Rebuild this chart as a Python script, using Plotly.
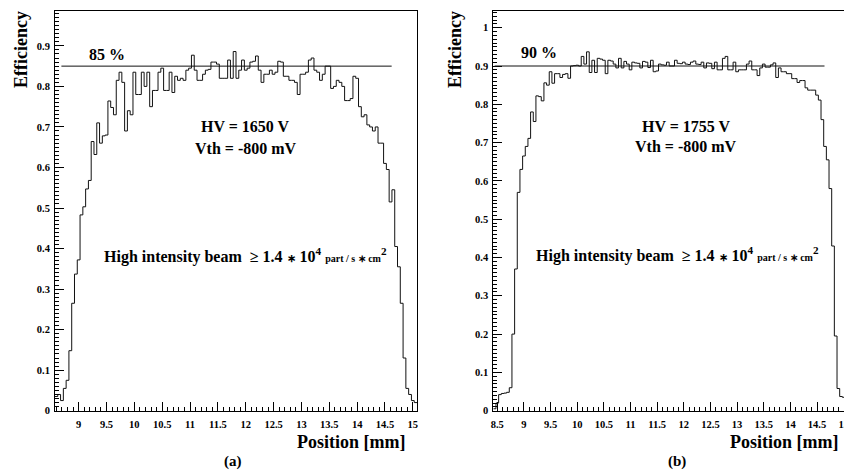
import numpy as np
import plotly.graph_objects as go

# ---------------- data ----------------
BIN_WIDTH = 0.05
A_FIRST_EDGE = 8.575   # panel (a) histogram low edge [mm]
B_FIRST_EDGE = 8.425   # panel (b) histogram low edge [mm]

eff_a = [0.035, 0.04, 0.025, 0.055, 0.075, 0.148, 0.265, 0.337, 0.372, 0.483,
         0.503, 0.547, 0.568, 0.664, 0.632, 0.71, 0.66, 0.678, 0.68, 0.764,
         0.748, 0.73, 0.815, 0.835, 0.81, 0.69, 0.74, 0.73, 0.835, 0.78,
         0.78, 0.835, 0.80, 0.835, 0.75, 0.79, 0.79, 0.835, 0.845, 0.79,
         0.79, 0.835, 0.785, 0.825, 0.815, 0.82, 0.815, 0.84, 0.845, 0.877,
         0.84, 0.815, 0.815, 0.83, 0.84, 0.842, 0.86, 0.86, 0.855, 0.82,
         0.82, 0.82, 0.865, 0.82, 0.886, 0.82, 0.84, 0.865, 0.84, 0.845,
         0.86, 0.862, 0.875, 0.84, 0.81, 0.83, 0.83, 0.84, 0.83, 0.835,
         0.862, 0.86, 0.825, 0.825, 0.815, 0.815, 0.81, 0.78, 0.83, 0.83,
         0.835, 0.865, 0.87, 0.84, 0.835, 0.815, 0.83, 0.85, 0.85, 0.795,
         0.80, 0.815, 0.81, 0.80, 0.765, 0.765, 0.77, 0.825, 0.82, 0.75,
         0.725, 0.73, 0.705, 0.70, 0.69, 0.70, 0.66, 0.66, 0.61, 0.595,
         0.515, 0.545, 0.405, 0.355, 0.265, 0.13, 0.055, 0.04, 0.025, 0.02]

eff_b = [0.005, 0.02, 0.042, 0.045, 0.046, 0.048, 0.06, 0.2, 0.37, 0.57,
         0.63, 0.665, 0.69, 0.711, 0.78, 0.755, 0.822, 0.82, 0.809, 0.856,
         0.85, 0.885, 0.855, 0.88, 0.88, 0.87, 0.878, 0.88, 0.868, 0.90,
         0.901, 0.902, 0.90, 0.925, 0.905, 0.937, 0.883, 0.915, 0.883, 0.92,
         0.918, 0.915, 0.88, 0.915, 0.913, 0.905, 0.895, 0.92, 0.895, 0.912,
         0.905, 0.89, 0.91, 0.908, 0.907, 0.895, 0.912, 0.91, 0.896, 0.915,
         0.885, 0.887, 0.905, 0.903, 0.902, 0.91, 0.90, 0.90, 0.915, 0.907,
         0.906, 0.91, 0.905, 0.904, 0.91, 0.913, 0.905, 0.904, 0.91, 0.895,
         0.908, 0.907, 0.893, 0.91, 0.89, 0.89, 0.92, 0.925, 0.89, 0.89,
         0.91, 0.885, 0.89, 0.89, 0.89, 0.905, 0.913, 0.89, 0.89, 0.875,
         0.895, 0.905, 0.897, 0.897, 0.903, 0.908, 0.87, 0.895, 0.885, 0.885,
         0.88, 0.88, 0.867, 0.867, 0.857, 0.862, 0.862, 0.843, 0.837, 0.837,
         0.837, 0.824, 0.811, 0.76, 0.69, 0.655, 0.58, 0.43, 0.195, 0.058,
         0.037, 0.035, 0.03]

# reference lines: (x start, x end, level)
ref_line_a = (8.69, 14.62, 0.85)
ref_line_b = (8.45, 14.64, 0.90)

label_a = ["85 %", "HV = 1650 V", "Vth = -800 mV"]
label_b = ["90 %", "HV = 1755 V", "Vth = -800 mV"]
beam_text = ("High intensity beam  ≥ 1.4 <span style='font-size:11px'>∗</span> 10<sup>4</sup> "
             "<span style='font-size:10px'>part / s ∗ cm</span><sup>2</sup>")

# ---------------- helpers ----------------
W, H = 844, 470
FONT = "Liberation Serif, Times New Roman, serif"


def px(x):
    return x / W


def py(y):
    return 1 - y / H


def steps(first_edge, vals):
    edges = first_edge + BIN_WIDTH * np.arange(len(vals) + 1)
    return edges, list(vals) + [vals[-1]]


fig = go.Figure()

xa, ya = steps(A_FIRST_EDGE, eff_a)
xb, yb = steps(B_FIRST_EDGE, eff_b)
fig.add_trace(go.Scatter(x=xa, y=ya, mode="lines", line=dict(color="#111", width=1, shape="hv"),
                         xaxis="x", yaxis="y", showlegend=False, hoverinfo="skip"))
fig.add_trace(go.Scatter(x=xb, y=yb, mode="lines", line=dict(color="#111", width=1, shape="hv"),
                         xaxis="x2", yaxis="y2", showlegend=False, hoverinfo="skip"))

# horizontal reference lines
for (x0, x1, lvl), xr, yr in [(ref_line_a, "x", "y"), (ref_line_b, "x2", "y2")]:
    fig.add_shape(type="line", x0=x0, x1=x1, y0=lvl, y1=lvl, xref=xr, yref=yr,
                  line=dict(color="#111", width=1))

tickfont = dict(family=FONT, size=10.5, color="black", weight="bold")
ydom = [py(410.7), py(11)]

common_x = dict(showline=True, linecolor="black", linewidth=1, mirror=True,
                ticks="inside", ticklen=9, tickcolor="black", tickwidth=1,
                dtick=0.5, tick0=0, tickfont=tickfont, showgrid=False, zeroline=False,
                minor=dict(ticks="inside", dtick=0.1, ticklen=4, tickcolor="black", showgrid=False),
                ticklabelstandoff=4, ticklabeloverflow="allow", automargin=False)
common_y = dict(showline=True, linecolor="black", linewidth=1, mirror=True,
                ticks="inside", ticklen=9, tickcolor="black", tickwidth=1,
                dtick=0.1, tick0=0, tickfont=tickfont, showgrid=False, zeroline=False,
                minor=dict(ticks="inside", dtick=0.01, ticklen=4, tickcolor="black", showgrid=False),
                ticklabelstandoff=2, automargin=False)

fig.update_layout(
    width=W, height=H,
    margin=dict(l=0, r=0, t=0, b=0),
    paper_bgcolor="white", plot_bgcolor="white",
    xaxis=dict(domain=[px(55), px(417)], range=[8.575, 15.075], anchor="y", **common_x),
    yaxis=dict(domain=ydom, range=[0, 0.986], anchor="x", **common_y),
    xaxis2=dict(domain=[px(493.3), 1.0], range=[8.425, 15.006], anchor="y2", **common_x),
    yaxis2=dict(domain=ydom, range=[0, 1.0436], anchor="x2", **common_y),
)

txt = dict(family=FONT, size=16, color="black", weight="bold")
ann = []
# panel (a) texts
ann.append(dict(x=9.5, y=0.878, xref="x", yref="y", text=label_a[0], font=txt))
ann.append(dict(x=12.0, y=0.70, xref="x", yref="y", text=label_a[1], font=txt))
ann.append(dict(x=12.0, y=0.648, xref="x", yref="y", text=label_a[2], font=txt))
ann.append(dict(x=11.99, y=0.384, xref="x", yref="y", text=beam_text, font=txt))
# panel (b) texts
ann.append(dict(x=9.28, y=0.934, xref="x2", yref="y2", text=label_b[0], font=txt))
ann.append(dict(x=12.05, y=0.7415, xref="x2", yref="y2", text=label_b[1], font=txt))
ann.append(dict(x=12.05, y=0.689, xref="x2", yref="y2", text=label_b[2], font=txt))
ann.append(dict(x=11.88, y=0.407, xref="x2", yref="y2", text=beam_text, font=txt))

title_font = dict(family=FONT, size=18, color="black", weight="bold")
# axis titles
for cx in (21, 455):
    ann.append(dict(x=px(cx), y=py(50), xref="paper", yref="paper", text="Efficiency",
                    textangle=-90, font=title_font))
for rx in (407, 840):
    ann.append(dict(x=px(rx), y=py(442), xref="paper", yref="paper", text="Position [mm]",
                    xanchor="right", font=title_font))
# panel labels
for cx, t in ((232.7, "(a)"), (677, "(b)")):
    ann.append(dict(x=px(cx), y=py(461), xref="paper", yref="paper", text=t,
                    font=dict(family=FONT, size=15, color="black", weight="bold")))

for a in ann:
    a.setdefault("showarrow", False)
    a.setdefault("xanchor", "center")
    a.setdefault("yanchor", "middle")
fig.update_layout(annotations=ann)

fig.write_html("out.html", config={"displayModeBar": False},
               post_script="document.body.style.margin='0';")
